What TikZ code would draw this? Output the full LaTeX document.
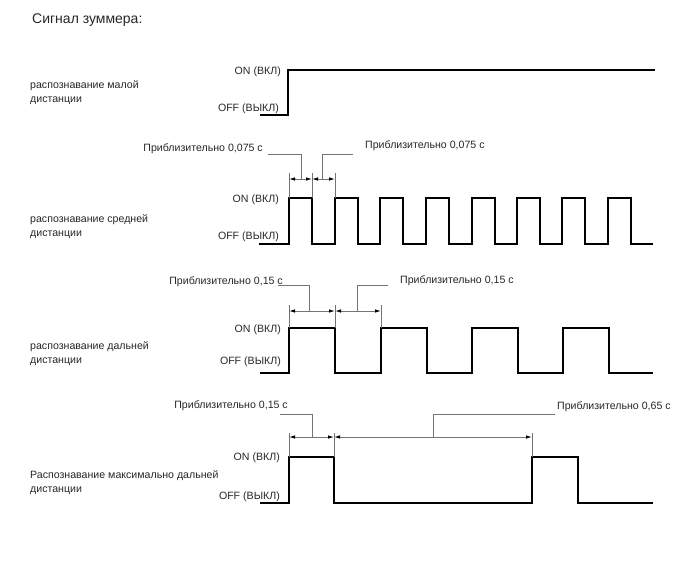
\documentclass[tikz,border=0pt]{standalone}
\usepackage{fontspec}
\setmainfont{Liberation Sans}
\usetikzlibrary{arrows.meta}

\tikzset{
  sig/.style={line width=1.3pt, line join=miter},
  dim/.style={black!55, line width=0.9pt},
  dimarr/.style={dim, {Latex[length=6pt,width=3.5pt,black]}-{Latex[length=6pt,width=3.5pt,black]}},
  lbl/.style={font=\fontsize{10.6}{14}\selectfont, inner sep=0pt, text=black!85},
  ttl/.style={font=\fontsize{14}{16}\selectfont, inner sep=0pt, text=black!85}
}

\begin{document}
\begin{tikzpicture}[x=1pt,y=-1pt]
\useasboundingbox (0,0) rectangle (688,560);
\node[ttl,anchor=west] (title) at (32,20) {Сигнал зуммера:};

\node[lbl,anchor=west,align=left] (near) at (30,93) {распознавание малой\\дистанции};
\node[lbl,anchor=east] (on1) at (281,72) {ON (ВКЛ)};
\node[lbl,anchor=east] (off1) at (279,109) {OFF (ВЫКЛ)};
\draw[sig] (260,115)--(288,115)--(288,70)--(655,70);

\node[lbl,anchor=west,align=left] (middle) at (30,227) {распознавание средней\\дистанции};
\node[lbl,anchor=east] (on2) at (279,200) {ON (ВКЛ)};
\node[lbl,anchor=east] (off2) at (279,237) {OFF (ВЫКЛ)};
\draw[sig] (259,244) \foreach \x in {289,335,380,426,472,517,562,608} {--(\x,244)--(\x,198)--++(23,0)--++(0,46)} --(653,244);
\draw[dim] (289,173)--(289,198);
\draw[dim] (312,173)--(312,198);
\draw[dim] (335,173)--(335,198);
\draw[dimarr] (289,179)--(312,179);
\draw[dimarr] (312,179)--(335,179);
\node[lbl,anchor=east] (tA) at (263,149) {Приблизительно 0,075 с};
\node[lbl,anchor=west] (tB) at (365,146) {Приблизительно 0,075 с};
\draw[dim] (268,154) -| (301,179);
\draw[dim] (322,179) |- (353,154);

\node[lbl,anchor=west,align=left] (far) at (30,354) {распознавание дальней\\дистанции};
\node[lbl,anchor=east] (on3) at (281,330) {ON (ВКЛ)};
\node[lbl,anchor=east] (off3) at (281,362) {OFF (ВЫКЛ)};
\draw[sig] (260,373) \foreach \x in {289,381,472,563} {--(\x,373)--(\x,328)--++(46,0)--++(0,45)} --(653,373);
\draw[dim] (289,305)--(289,328);
\draw[dim] (335,305)--(335,328);
\draw[dim] (381,305)--(381,328);
\draw[dimarr] (289,311)--(335,311);
\draw[dimarr] (335,311)--(381,311);
\node[lbl,anchor=east] (tC) at (283,282) {Приблизительно 0,15 с};
\node[lbl,anchor=west] (tD) at (400,281) {Приблизительно 0,15 с};
\draw[dim] (278,285) -| (309,311);
\draw[dim] (357,311) |- (388,285);

\node[lbl,anchor=west,align=left] (maxfar) at (30,483) {Распознавание максимально дальней\\дистанции};
\node[lbl,anchor=east] (on4) at (280,458) {ON (ВКЛ)};
\node[lbl,anchor=east] (off4) at (280,497) {OFF (ВЫКЛ)};
\draw[sig] (260,503)--(289,503)--(289,457)--(334,457)--(334,503)--(532,503)--(532,457)--(578,457)--(578,503)--(653,503);
\draw[dim] (289,433)--(289,457);
\draw[dim] (334,433)--(334,457);
\draw[dim] (532,433)--(532,457);
\draw[dimarr] (289,437)--(334,437);
\draw[dimarr] (334,437)--(532,437);
\node[lbl,anchor=east] (tE) at (288,406) {Приблизительно 0,15 с};
\node[lbl,anchor=west] (tF) at (557,407) {Приблизительно 0,65 с};
\draw[dim] (280,414) -| (312,437);
\draw[dim] (433,437) |- (555,414);
\end{tikzpicture}
\end{document}
